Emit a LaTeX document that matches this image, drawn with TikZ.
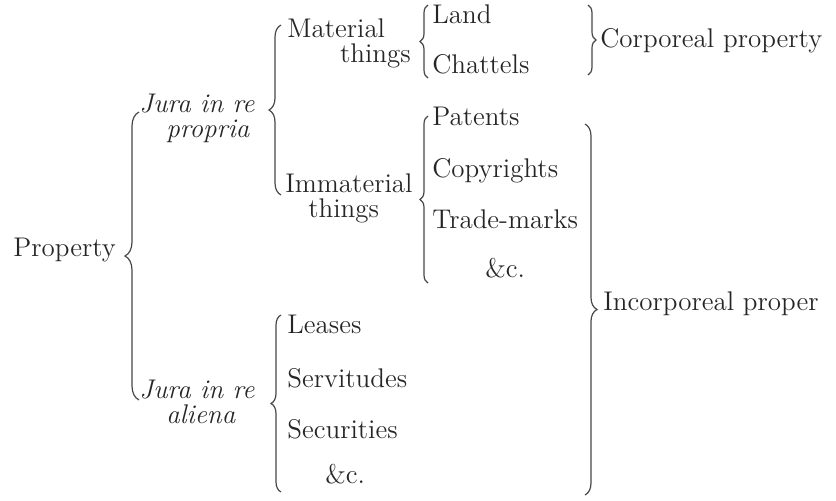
\documentclass[tikz,border=0pt]{standalone}
\usepackage{fontspec}
\usepackage{tikz}
\usetikzlibrary{decorations.pathreplacing}
\definecolor{ink}{HTML}{262626}
\tikzset{
	item/.style={anchor=base west, inner sep=0pt, text=ink, align=left,
		font=\fontsize{13.5}{12.5}\selectfont},
	brace/.style={draw=ink!85, line width=0.6pt, decorate, decoration={brace, amplitude=#1}},
	brace/.default=4pt
}

\begin{document}
\begin{tikzpicture}[x=0.5pt, y=-0.5pt]
			\useasboundingbox (0,0) rectangle (836,500);
			% left column (two-line nodes sit on their last baseline)
			\node[item] (prop) at (13,256) {Property};
			\node[item] (juraP) at (139,137) {\itshape Jura in re\\\hspace*{1em}\itshape propria};
			\node[item] (juraA) at (139,423) {\itshape Jura in re\\\hspace*{1em}\itshape aliena};
			\node[item] (material) at (287,62) {Material\\\hspace*{1.95em}things};
			\node[item] (immaterial) at (285,217) {Immaterial\\\hspace*{0.85em}things};
			% things
			\node[item] (land) at (432,23) {Land};
			\node[item] (chattels) at (432,73) {Chattels};
			\node[item] (patents) at (432,125) {Patents};
			\node[item] (copyrights) at (432,177) {Copyrights};
			\node[item] (trademarks) at (432,228) {Trade-marks};
			\node[item] (etcI) at (485,277) {\&c.};
			\node[item] (leases) at (287,333) {Leases};
			\node[item] (servitudes) at (287,387) {Servitudes};
			\node[item] (securities) at (287,438) {Securities};
			\node[item] (etcA) at (325,483) {\&c.};
			% right column
			\node[item] (corporeal) at (600,47) {Corporeal property};
			\node[item] (incorporeal) at (603,310) {Incorporeal proper};
			% braces
			\draw[brace=7pt] (139,400) -- (139,112);
			\draw[brace=6pt] (281,195) -- (281,25);
			\draw[brace=5pt] (281,492) -- (281,315);
			\draw[brace] (428,78) -- (428,5);
			\draw[brace] (428,283) -- (428,116);
			\draw[brace] (588,5) -- (588,75);
			\draw[brace=6pt] (585,124) -- (585,495);
		\end{tikzpicture}
\end{document}
